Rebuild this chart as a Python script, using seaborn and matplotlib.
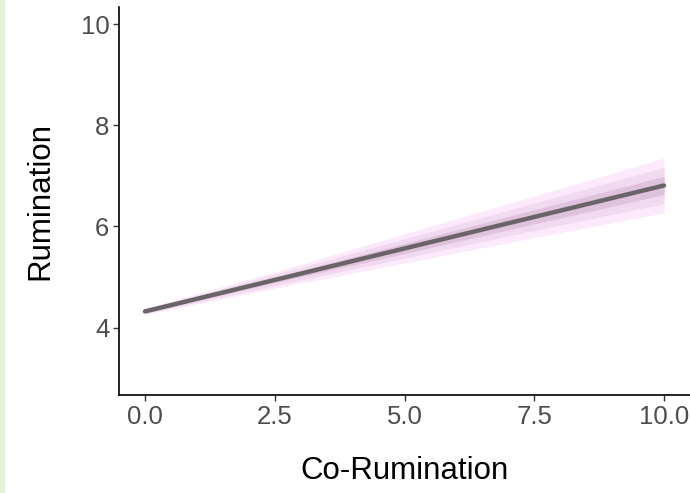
import numpy as np
import pandas as pd
import seaborn as sns
import matplotlib.pyplot as plt
from matplotlib.patches import Rectangle

# Fitted line
co_rumination = [0.0, 10.0]
rumination_fit = [4.32, 6.81]

# Confidence band half-widths at a few x positions (outer -> inner)
band_x = [0.0, 2.5, 5.0, 7.5, 10.0]
band_center = [4.32, 4.94, 5.565, 6.19, 6.81]
half_outer = [0.06, 0.16, 0.29, 0.41, 0.54]
half_mid = [0.04, 0.11, 0.19, 0.27, 0.36]
half_inner = [0.02, 0.05, 0.10, 0.14, 0.18]
band_colors = ['#fce9fb', '#f1d9ef', '#dfc3dd']

x_ticks = [0.0, 2.5, 5.0, 7.5, 10.0]
y_ticks = [4, 6, 8, 10]

sns.set_theme(style="ticks")
plt.rcParams['font.family'] = ['Liberation Sans', 'DejaVu Sans']

fig = plt.figure(figsize=(6.9, 4.93), dpi=100)
ax = fig.add_axes([0.1725, 0.199, 0.8275, 0.787])

# thin green strip on the left edge of the original
fig.patches.append(Rectangle((0, 0), 0.006, 1, transform=fig.transFigure,
                             color='#e6f1dc', zorder=0))

bx = np.array(band_x)
bc = np.array(band_center)
for hw, col in zip([half_outer, half_mid, half_inner], band_colors):
    hw = np.array(hw)
    ax.fill_between(bx, bc - hw, bc + hw, color=col, linewidth=0)

df = pd.DataFrame({'Co-Rumination': co_rumination, 'Rumination': rumination_fit})
sns.lineplot(data=df, x='Co-Rumination', y='Rumination', ax=ax,
             color='#6a6468', linewidth=3.2)

ax.set_xlim(-0.5, 10.5)
ax.set_ylim(2.67, 10.34)
ax.set_xticks(x_ticks)
ax.set_xticklabels(['0.0', '2.5', '5.0', '7.5', '10.0'])
ax.set_yticks(y_ticks)

ax.tick_params(axis='both', labelsize=18.5, colors='#4d4d4d', length=4,
               width=1.0, pad=3)
ax.tick_params(axis='both', color='#333333')
for s in ['top', 'right']:
    ax.spines[s].set_visible(False)
for s in ['left', 'bottom']:
    ax.spines[s].set_color('black')
    ax.spines[s].set_linewidth(1.2)

ax.set_xlabel('Co-Rumination', fontsize=22.5, color='black', labelpad=20)
ax.set_ylabel('Rumination', fontsize=22.5, color='black', labelpad=18)

fig.savefig('out.png', dpi=100)
